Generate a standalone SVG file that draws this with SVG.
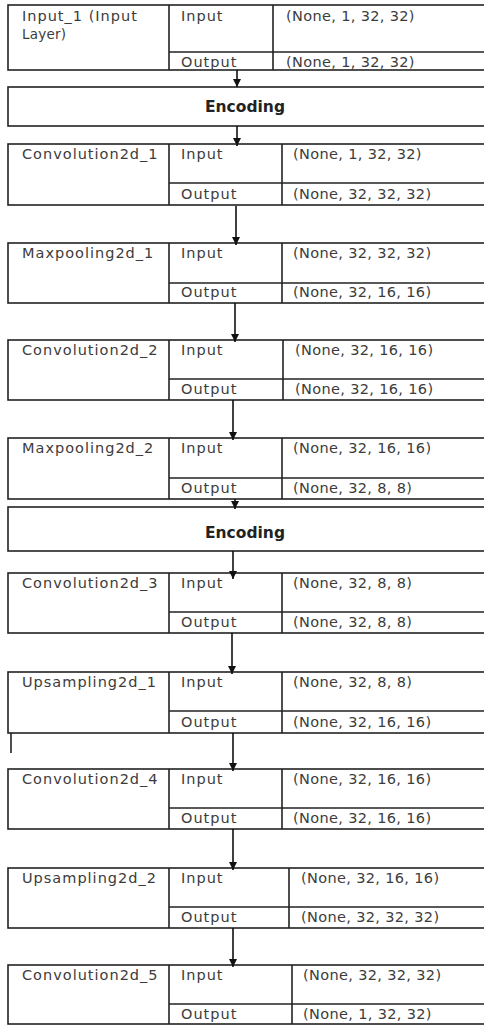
<svg xmlns="http://www.w3.org/2000/svg" width="484" height="1025" viewBox="0 0 484 1025">
<style>
  .b{fill:#fff;stroke:#222;stroke-width:1.6}
  .l{stroke:#222;stroke-width:1.6;fill:none}
  .t{font-family:"DejaVu Sans",sans-serif;font-size:14.5px;fill:#3c3c3c;letter-spacing:1px}
  .v{font-family:"DejaVu Sans",sans-serif;font-size:14.5px;fill:#3c3c3c;letter-spacing:0.35px}
  .s{font-family:"DejaVu Sans",sans-serif;font-size:13.5px;fill:#3c3c3c;letter-spacing:0.2px}
  .e{font-family:"DejaVu Sans",sans-serif;font-size:15.5px;font-weight:bold;fill:#222;text-anchor:middle}
  .c{stroke:#111;stroke-width:1.6;fill:none;marker-end:url(#ah)}
</style>
<defs>
  <marker id="ah" markerUnits="userSpaceOnUse" markerWidth="9" markerHeight="9" refX="8" refY="4" orient="auto">
    <path d="M0,0 L8,4 L0,8 z" fill="#111"/>
  </marker>
</defs>
<rect width="484" height="1025" fill="#fff"/>

<g id="input_1">
  <rect class="b" x="8" y="5" width="490" height="65"/>
  <line class="l" x1="169" y1="5" x2="169" y2="70"/>
  <line class="l" x1="273" y1="5" x2="273" y2="70"/>
  <line class="l" x1="169" y1="52" x2="498" y2="52"/>
  <text class="t" x="22" y="21">Input_1 (Input</text>
  <text class="s" x="22" y="39">Layer)</text>
  <text class="t" x="181" y="21">Input</text>
  <text class="v" x="286" y="21">(None, 1, 32, 32)</text>
  <text class="t" x="181" y="67">Output</text>
  <text class="v" x="286" y="67">(None, 1, 32, 32)</text>
</g>

<g id="encoding_1">
  <rect class="b" x="8" y="87" width="490" height="39"/>
  <text class="e" x="245" y="112">Encoding</text>
</g>

<g id="convolution2d_1">
  <rect class="b" x="8" y="144" width="490" height="61"/>
  <line class="l" x1="169" y1="144" x2="169" y2="205"/>
  <line class="l" x1="282" y1="144" x2="282" y2="205"/>
  <line class="l" x1="169" y1="183" x2="498" y2="183"/>
  <text class="t" x="22" y="159">Convolution2d_1</text>
  <text class="t" x="181" y="159">Input</text>
  <text class="v" x="293" y="159">(None, 1, 32, 32)</text>
  <text class="t" x="181" y="199">Output</text>
  <text class="v" x="293" y="199">(None, 32, 32, 32)</text>
</g>

<g id="maxpooling2d_1">
  <rect class="b" x="8" y="243" width="490" height="60"/>
  <line class="l" x1="169" y1="243" x2="169" y2="303"/>
  <line class="l" x1="282" y1="243" x2="282" y2="303"/>
  <line class="l" x1="169" y1="283" x2="498" y2="283"/>
  <text class="t" x="22" y="258">Maxpooling2d_1</text>
  <text class="t" x="181" y="258">Input</text>
  <text class="v" x="293" y="258">(None, 32, 32, 32)</text>
  <text class="t" x="181" y="297">Output</text>
  <text class="v" x="293" y="297">(None, 32, 16, 16)</text>
</g>

<g id="convolution2d_2">
  <rect class="b" x="8" y="340" width="490" height="60"/>
  <line class="l" x1="169" y1="340" x2="169" y2="400"/>
  <line class="l" x1="283" y1="340" x2="283" y2="400"/>
  <line class="l" x1="169" y1="379" x2="498" y2="379"/>
  <text class="t" x="22" y="355">Convolution2d_2</text>
  <text class="t" x="181" y="355">Input</text>
  <text class="v" x="295" y="355">(None, 32, 16, 16)</text>
  <text class="t" x="181" y="394">Output</text>
  <text class="v" x="295" y="394">(None, 32, 16, 16)</text>
</g>

<g id="maxpooling2d_2">
  <rect class="b" x="8" y="438" width="490" height="61"/>
  <line class="l" x1="169" y1="438" x2="169" y2="499"/>
  <line class="l" x1="282" y1="438" x2="282" y2="499"/>
  <line class="l" x1="169" y1="478" x2="498" y2="478"/>
  <text class="t" x="22" y="453">Maxpooling2d_2</text>
  <text class="t" x="181" y="453">Input</text>
  <text class="v" x="293" y="453">(None, 32, 16, 16)</text>
  <text class="t" x="181" y="493">Output</text>
  <text class="v" x="293" y="493">(None, 32, 8, 8)</text>
</g>

<g id="encoding_2">
  <rect class="b" x="8" y="507" width="490" height="44"/>
  <text class="e" x="245" y="538">Encoding</text>
</g>

<g id="convolution2d_3">
  <rect class="b" x="8" y="573" width="490" height="60"/>
  <line class="l" x1="169" y1="573" x2="169" y2="633"/>
  <line class="l" x1="282" y1="573" x2="282" y2="633"/>
  <line class="l" x1="169" y1="612" x2="498" y2="612"/>
  <text class="t" x="22" y="588">Convolution2d_3</text>
  <text class="t" x="181" y="588">Input</text>
  <text class="v" x="293" y="588">(None, 32, 8, 8)</text>
  <text class="t" x="181" y="627">Output</text>
  <text class="v" x="293" y="627">(None, 32, 8, 8)</text>
</g>

<g id="upsampling2d_1">
  <rect class="b" x="8" y="672" width="490" height="61"/>
  <line class="l" x1="169" y1="672" x2="169" y2="733"/>
  <line class="l" x1="282" y1="672" x2="282" y2="733"/>
  <line class="l" x1="169" y1="711" x2="498" y2="711"/>
  <text class="t" x="22" y="687">Upsampling2d_1</text>
  <text class="t" x="181" y="687">Input</text>
  <text class="v" x="293" y="687">(None, 32, 8, 8)</text>
  <text class="t" x="181" y="727">Output</text>
  <text class="v" x="293" y="727">(None, 32, 16, 16)</text>
  <line class="l" x1="11" y1="733" x2="11" y2="753"/>
</g>

<g id="convolution2d_4">
  <rect class="b" x="8" y="769" width="490" height="60"/>
  <line class="l" x1="169" y1="769" x2="169" y2="829"/>
  <line class="l" x1="282" y1="769" x2="282" y2="829"/>
  <line class="l" x1="169" y1="808" x2="498" y2="808"/>
  <text class="t" x="22" y="784">Convolution2d_4</text>
  <text class="t" x="181" y="784">Input</text>
  <text class="v" x="293" y="784">(None, 32, 16, 16)</text>
  <text class="t" x="181" y="823">Output</text>
  <text class="v" x="293" y="823">(None, 32, 16, 16)</text>
</g>

<g id="upsampling2d_2">
  <rect class="b" x="8" y="868" width="490" height="60"/>
  <line class="l" x1="169" y1="868" x2="169" y2="928"/>
  <line class="l" x1="289" y1="868" x2="289" y2="928"/>
  <line class="l" x1="169" y1="907" x2="498" y2="907"/>
  <text class="t" x="22" y="883">Upsampling2d_2</text>
  <text class="t" x="181" y="883">Input</text>
  <text class="v" x="301" y="883">(None, 32, 16, 16)</text>
  <text class="t" x="181" y="922">Output</text>
  <text class="v" x="301" y="922">(None, 32, 32, 32)</text>
</g>

<g id="convolution2d_5">
  <rect class="b" x="8" y="965" width="490" height="59"/>
  <line class="l" x1="169" y1="965" x2="169" y2="1024"/>
  <line class="l" x1="292" y1="965" x2="292" y2="1024"/>
  <line class="l" x1="169" y1="1004" x2="498" y2="1004"/>
  <text class="t" x="22" y="980">Convolution2d_5</text>
  <text class="t" x="181" y="980">Input</text>
  <text class="v" x="303" y="980">(None, 32, 32, 32)</text>
  <text class="t" x="181" y="1019">Output</text>
  <text class="v" x="303" y="1019">(None, 1, 32, 32)</text>
</g>

<g id="connectors">
  <line class="c" x1="237" y1="70" x2="237" y2="87"/>
  <line class="c" x1="237" y1="126" x2="237" y2="146"/>
  <line class="c" x1="236" y1="206" x2="236" y2="245"/>
  <line class="c" x1="235" y1="303" x2="235" y2="342"/>
  <line class="c" x1="233" y1="400" x2="233" y2="440"/>
  <line class="c" x1="235" y1="499" x2="235" y2="509"/>
  <line class="c" x1="233" y1="551" x2="233" y2="579"/>
  <line class="c" x1="232" y1="633" x2="232" y2="674"/>
  <line class="c" x1="233" y1="733" x2="233" y2="771"/>
  <line class="c" x1="233" y1="829" x2="233" y2="870"/>
  <line class="c" x1="233" y1="928" x2="233" y2="967"/>
</g>
</svg>
